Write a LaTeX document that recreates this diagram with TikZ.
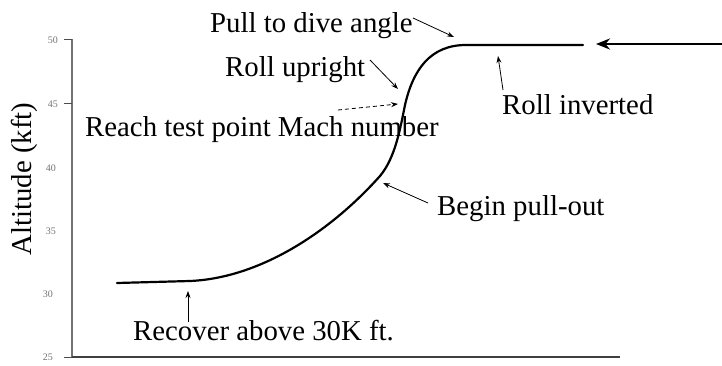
\documentclass[tikz,border=0pt]{standalone}
\usepackage{fontspec}
\setmainfont{Liberation Serif}
\usetikzlibrary{arrows.meta}
\begin{document}
\begin{tikzpicture}[x=1pt,y=-1pt,
  lbl/.style={font=\fontsize{28.8}{30}\selectfont, inner sep=0pt, anchor=base west},
  ticklbl/.style={font=\fontsize{10}{11}\selectfont, text=black!55, inner sep=0pt, anchor=east},
  ptr/.style={line width=0.8pt, -{Stealth[length=7pt,width=5pt]}},
  curve/.style={line width=2.2pt, line cap=round}]
\useasboundingbox (0,0) rectangle (722,366);
% axes
\coordinate (yaxA) at (72,39);
\coordinate (yaxB) at (72,357);
\coordinate (xaxB) at (620,357);
\draw[black!55, line width=2pt] (yaxA) -- (yaxB);
\draw[black!75, line width=1.8pt] (yaxB) -- (xaxB);
\draw[black!70, line width=0.9pt] (yaxA) -- ++(-8,0);
\draw[black!70, line width=0.9pt] (72,103) -- ++(-8,0);
\draw[black!70, line width=0.9pt] (yaxB) -- ++(-8,0);
\node[ticklbl] (t50) at (58,40) {50};
\node[ticklbl] (t45) at (58,104) {45};
\node[ticklbl] (t40) at (56,168) {40};
\node[ticklbl] (t35) at (56,231) {35};
\node[ticklbl] (t30) at (53,294) {30};
\node[ticklbl] (t25) at (53,357) {25};
\node[font=\fontsize{28.8}{30}\selectfont, rotate=90, inner sep=0pt] (ylab) at (24,179) {Altitude (kft)};
% trajectory
\coordinate (c0) at (117,283);
\coordinate (c1) at (190,281);
\coordinate (c2) at (380,176);
\coordinate (c3) at (405,105);
\coordinate (c4) at (466,45);
\coordinate (c5) at (583,45);
\draw[curve] (c0) -- (c1) .. controls (260,278) and (330,232) .. (c2)
  .. controls (395,158) and (400,130) .. (c3)
  .. controls (413,70) and (430,45) .. (c4) -- (c5);
% right arrow
\coordinate (rin) at (722,44);
\coordinate (rtip) at (596,44);
\draw[line width=2.6pt, -{Stealth[length=14pt,width=11pt]}] (rin) -- (rtip);
% labels
\node[lbl] (pull) at (210,33) {Pull to dive angle};
\node[lbl] (upright) at (225,77) {Roll upright};
\node[lbl] (reach) at (85,137) {Reach test point Mach number};
\node[lbl] (inverted) at (502,115) {Roll inverted};
\node[lbl] (begin) at (437,215) {Begin pull-out};
\node[lbl] (recover) at (133,340) {Recover above 30K ft.};
% pointer coordinates
\coordinate (pullS) at (413,18);
\coordinate (pullT) at (454,37);
\coordinate (upS) at (370,60);
\coordinate (upT) at (398,89);
\coordinate (reachS) at (338,110);
\coordinate (reachT) at (398,104);
\coordinate (invS) at (503,90);
\coordinate (invT) at (498,56);
\coordinate (beginS) at (428,203);
\coordinate (beginT) at (383,183);
\coordinate (recS) at (188,322);
\coordinate (recT) at (188,291);
\draw[ptr] (pullS) -- (pullT);
\draw[ptr] (upS) -- (upT);
\draw[ptr, dashed, dash pattern=on 4pt off 3pt] (reachS) -- (reachT);
\draw[ptr] (invS) -- (invT);
\draw[ptr] (beginS) -- (beginT);
\draw[ptr] (recS) -- (recT);
\end{tikzpicture}
\end{document}
